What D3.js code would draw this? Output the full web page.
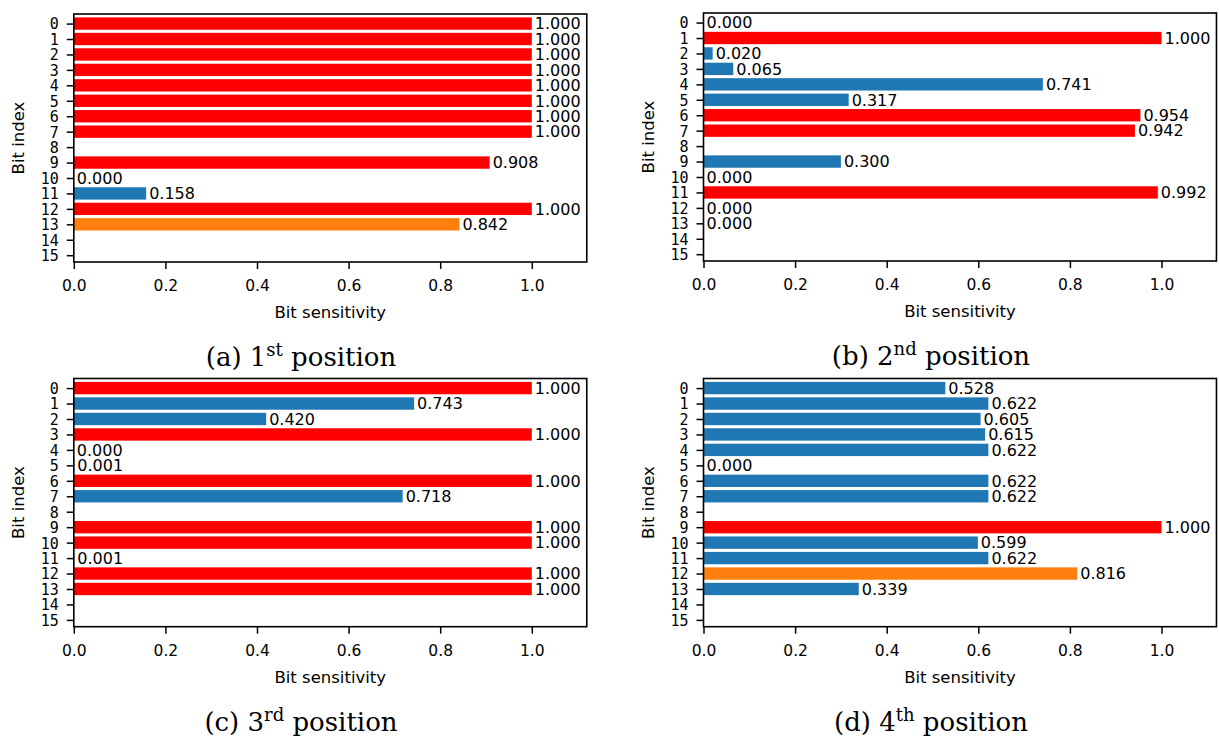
<!DOCTYPE html>
<html>
<head>
<meta charset="utf-8">
<script src="https://cdn.jsdelivr.net/npm/d3@7"></script>
<style>
  body { margin: 0; background: #fff; }
  svg { display: block; }
</style>
</head>
<body>
<svg id="chart" width="1219" height="740"></svg>
<script>
// ---- data ----
const bitLabels = ["0","1","2","3","4","5","6","7","8","9","10","11","12","13","14","15"];
const xTickValues = [0.0, 0.2, 0.4, 0.6, 0.8, 1.0];
// null = no bar drawn for that bit
const pos1 = [1.000, 1.000, 1.000, 1.000, 1.000, 1.000, 1.000, 1.000, null, 0.908, 0.000, 0.158, 1.000, 0.842];
const pos2 = [0.000, 1.000, 0.020, 0.065, 0.741, 0.317, 0.954, 0.942, null, 0.300, 0.000, 0.992, 0.000, 0.000];
const pos3 = [1.000, 0.743, 0.420, 1.000, 0.000, 0.001, 1.000, 0.718, null, 1.000, 1.000, 0.001, 1.000, 1.000];
const pos4 = [0.528, 0.622, 0.605, 0.615, 0.622, 0.000, 0.622, 0.622, null, 1.000, 0.599, 0.622, 0.816, 0.339];
const captionLetters = ["(a)", "(b)", "(c)", "(d)"];
const ordinals = ["1", "2", "3", "4"];
const ordSuffix = ["st", "nd", "rd", "th"];
const colorHigh = "#ff0000", colorMid = "#ff7f0e", colorLow = "#1f77b4";

function barColor(v) { return v >= 0.9 ? colorHigh : (v >= 0.8 ? colorMid : colorLow); }

// ---- layout ----
const panels = [
  { data: pos1, left: 73.8,  top: 14,    bottom: 262,   capX: 301, capY: 366 },
  { data: pos2, left: 703.5, top: 13,    bottom: 261,   capX: 931, capY: 365 },
  { data: pos3, left: 73.8,  top: 378.5, bottom: 626.7, capX: 301, capY: 731 },
  { data: pos4, left: 703.5, top: 378.5, bottom: 626.7, capX: 931, capY: 731 }
];
const pxPerUnit = 458;
const xMax = 1.12;

const svg = d3.select("#chart");

panels.forEach((p, i) => {
  const w = pxPerUnit * xMax;
  const h = p.bottom - p.top;
  const g = svg.append("g").attr("transform", `translate(${p.left},${p.top})`);

  const x = d3.scaleLinear().domain([0, xMax]).range([0, w]);
  const y = d3.scaleLinear().domain([-0.62, 15.44]).range([0, h]);
  const bh = (y(1) - y(0)) * 0.8;

  const rows = p.data.map((v, k) => ({ k, v })).filter(d => d.v !== null);

  g.selectAll("rect.bar").data(rows).enter().append("rect")
    .attr("class", "bar")
    .attr("x", x(0))
    .attr("y", d => y(d.k) - bh / 2)
    .attr("width", d => x(d.v) - x(0))
    .attr("height", bh)
    .attr("fill", d => barColor(d.v));

  g.selectAll("text.val").data(rows).enter().append("text")
    .attr("class", "val")
    .attr("x", d => x(d.v) + 3)
    .attr("y", d => y(d.k))
    .attr("dy", "0.36em")
    .attr("font-family", "DejaVu Sans")
    .attr("font-size", 16)
    .attr("fill", "#000")
    .text(d => d.v.toFixed(3));

  // y axis
  const yAxis = d3.axisLeft(y)
    .tickValues(d3.range(bitLabels.length))
    .tickFormat(k => bitLabels[k])
    .tickSize(7).tickPadding(8);
  const ya = g.append("g").call(yAxis);
  ya.select(".domain").remove();
  ya.selectAll(".tick line").attr("stroke", "#000").attr("stroke-width", 1.5);
  ya.selectAll(".tick text")
    .attr("font-family", "DejaVu Sans Mono")
    .attr("font-size", 15)
    .attr("fill", "#000")
    .attr("dy", "0.36em");

  // x axis
  const xAxis = d3.axisBottom(x)
    .tickValues(xTickValues)
    .tickFormat(d3.format(".1f"))
    .tickSize(7).tickPadding(11);
  const xa = g.append("g").attr("transform", `translate(0,${h})`).call(xAxis);
  xa.select(".domain").remove();
  xa.selectAll(".tick line").attr("stroke", "#000").attr("stroke-width", 1.5);
  xa.selectAll(".tick text")
    .attr("font-family", "DejaVu Sans")
    .attr("font-size", 15.5)
    .attr("fill", "#000");

  // frame
  g.append("rect")
    .attr("x", 0).attr("y", 0).attr("width", w).attr("height", h)
    .attr("fill", "none").attr("stroke", "#000").attr("stroke-width", 1.6);

  // axis labels
  g.append("text")
    .attr("x", w / 2).attr("y", h + 56)
    .attr("text-anchor", "middle")
    .attr("font-family", "DejaVu Sans").attr("font-size", 16.5)
    .text("Bit sensitivity");
  g.append("text")
    .attr("transform", `translate(-50,${h / 2}) rotate(-90)`)
    .attr("text-anchor", "middle")
    .attr("font-family", "DejaVu Sans").attr("font-size", 16.5)
    .text("Bit index");

  // caption
  const cap = svg.append("text")
    .attr("x", p.capX).attr("y", p.capY)
    .attr("text-anchor", "middle")
    .attr("font-family", "DejaVu Serif").attr("font-size", 26)
    .attr("fill", "#000");
  cap.append("tspan").text(`${captionLetters[i]} ${ordinals[i]}`);
  cap.append("tspan").attr("font-size", 18).attr("dy", -10).text(ordSuffix[i]);
  cap.append("tspan").attr("dy", 10).text(" position");
});
</script>
</body>
</html>
